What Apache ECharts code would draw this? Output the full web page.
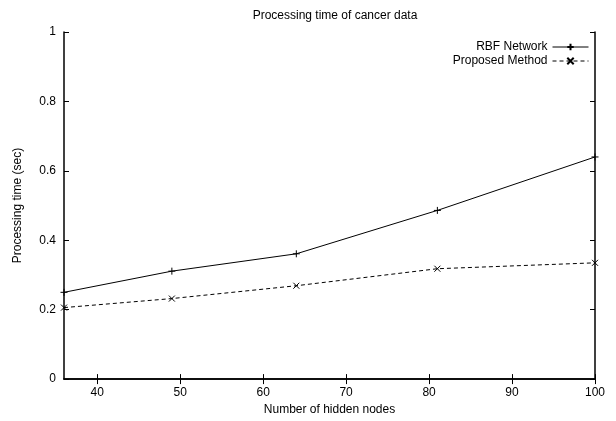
<!DOCTYPE html>
<html>
<head>
<meta charset="utf-8">
<script src="https://cdn.jsdelivr.net/npm/echarts@6/dist/echarts.min.js"></script>
<style>
  html, body { margin: 0; padding: 0; background: #fff; }
  #chart { width: 616px; height: 421px; }
</style>
</head>
<body>
<div id="chart"></div>
<script>
// hidden nodes
const nodes = [36, 49, 64, 81, 100];
const rbfTime = [0.25, 0.311, 0.361, 0.486, 0.64];
const proposedTime = [0.206, 0.232, 0.269, 0.318, 0.335];
const xTicks = [40, 50, 60, 70, 80, 90, 100];

const font = "Liberation Sans, Arial, sans-serif";
const plusSym = "path://M0,5 L10,5 M5,0 L5,10";
const crossSym = "path://M0,0 L10,10 M10,0 L0,10";

const chart = echarts.init(document.getElementById("chart"));

const tickStyle = { inside: true, length: 5, lineStyle: { color: "#000", width: 1 } };
const lineAxis = { show: true, lineStyle: { color: "#000", width: 1.5 } };

chart.setOption({
  backgroundColor: "#fff",
  animation: false,
  textStyle: { fontFamily: font },
  title: {
    text: "Processing time of cancer data",
    left: 330,
    top: 5,
    textAlign: "center",
    textStyle: { fontSize: 12, fontWeight: "normal", color: "#000", fontFamily: font },
  },
  legend: {
    orient: "vertical",
    right: 22,
    top: 36,
    align: "right",
    itemWidth: 36,
    itemHeight: 8,
    itemGap: 2,
    lineStyle: { width: 1 },
    textStyle: { fontSize: 12, color: "#000", fontFamily: font },
    data: ["RBF Network", "Proposed Method"],
  },
  grid: { left: 64, right: 21, top: 32, bottom: 36 },
  xAxis: [
    {
      type: "value",
      min: 36,
      max: 100,
      name: "Number of hidden nodes",
      nameLocation: "middle",
      nameGap: 24,
      nameTextStyle: { fontSize: 12, color: "#000" },
      axisLine: lineAxis,
      axisTick: Object.assign({ customValues: xTicks }, tickStyle),
      axisLabel: { customValues: xTicks, color: "#000", fontSize: 12, margin: 8 },
      splitLine: { show: false },
    },
    {
      type: "value",
      position: "top",
      min: 36,
      max: 100,
      axisLine: lineAxis,
      axisTick: Object.assign({ customValues: xTicks }, tickStyle),
      axisLabel: { show: false, customValues: xTicks },
      splitLine: { show: false },
    },
  ],
  yAxis: [
    {
      type: "value",
      min: 0,
      max: 1,
      interval: 0.2,
      name: "Processing time (sec)",
      nameLocation: "middle",
      nameGap: 40,
      nameTextStyle: { fontSize: 12, color: "#000" },
      axisLine: lineAxis,
      axisTick: tickStyle,
      axisLabel: { color: "#000", fontSize: 12, margin: 8 },
      splitLine: { show: false },
    },
    {
      type: "value",
      position: "right",
      min: 0,
      max: 1,
      interval: 0.2,
      axisLine: lineAxis,
      axisTick: tickStyle,
      axisLabel: { show: false },
      splitLine: { show: false },
    },
  ],
  series: [
    {
      name: "RBF Network",
      type: "line",
      data: nodes.map((x, i) => [x, rbfTime[i]]),
      symbol: plusSym,
      symbolSize: 7,
      lineStyle: { color: "#000", width: 1 },
      itemStyle: { color: "transparent", borderColor: "#000", borderWidth: 1 },
    },
    {
      name: "Proposed Method",
      type: "line",
      data: nodes.map((x, i) => [x, proposedTime[i]]),
      symbol: crossSym,
      symbolSize: 6,
      lineStyle: { color: "#000", width: 1, type: [4, 3] },
      itemStyle: { color: "transparent", borderColor: "#000", borderWidth: 1 },
    },
  ],
});
</script>
</body>
</html>
